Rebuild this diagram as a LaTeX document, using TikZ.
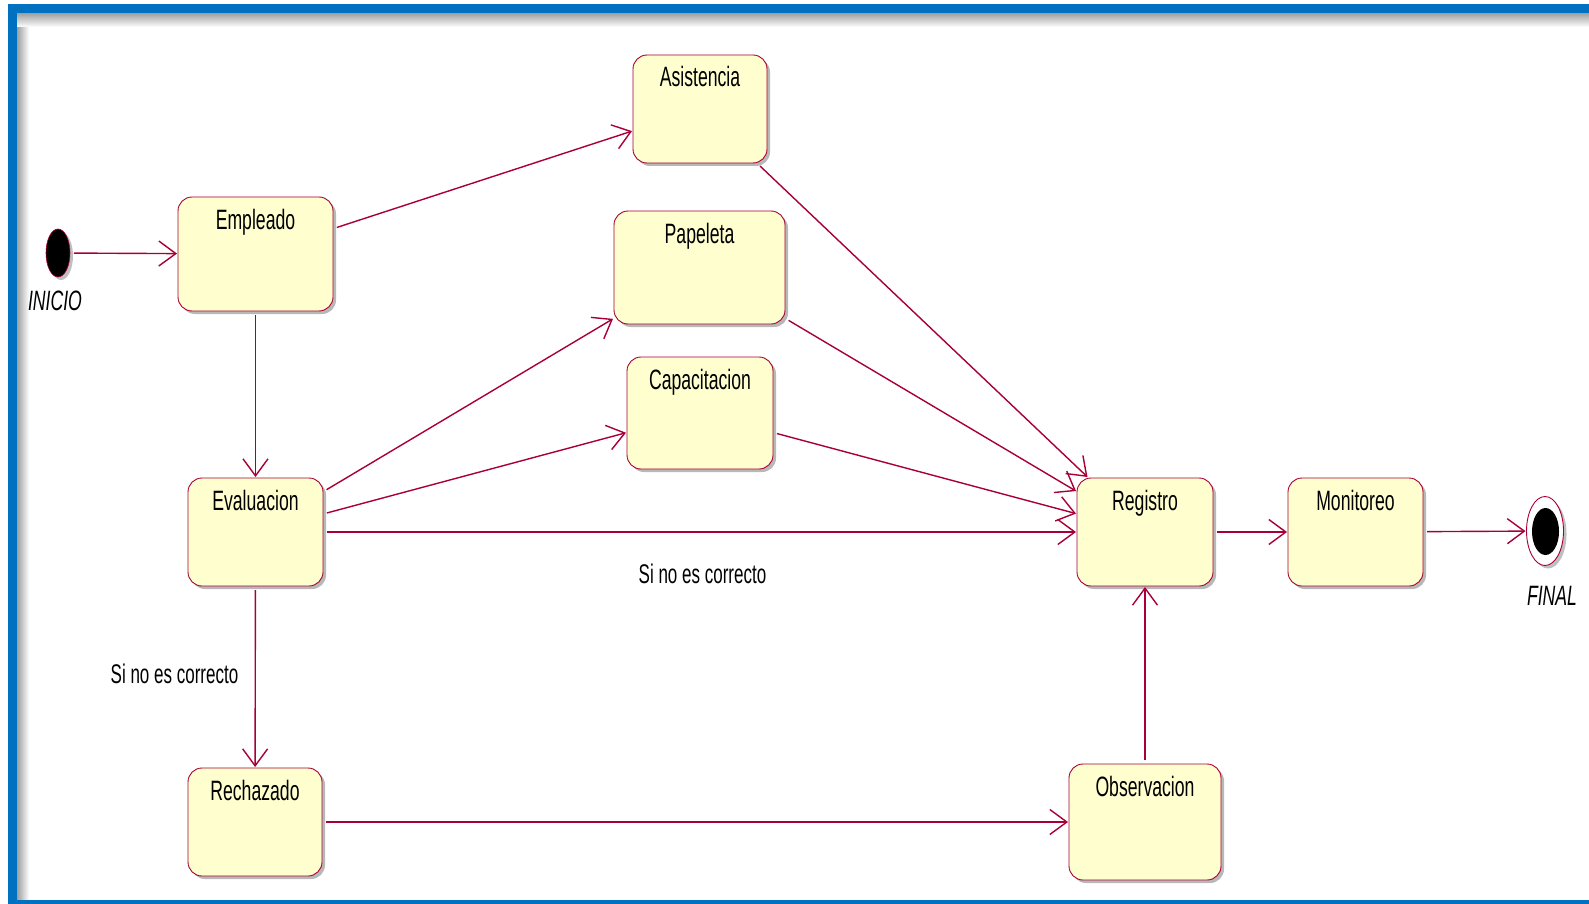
\documentclass[tikz,border=0pt]{standalone}
\usepackage{fontspec}
\setmainfont{Liberation Sans}[FakeStretch=0.63]
\usetikzlibrary{arrows.meta,shadows,shapes.geometric}
\definecolor{umlred}{RGB}{168,0,54}
\definecolor{statefill}{RGB}{254,254,206}
\definecolor{frameblue}{RGB}{0,112,192}

\begin{document}
\begin{tikzpicture}[x=1pt,y=-1pt,
  statebox/.style={draw=umlred, line width=0.9pt, fill=statefill,
    rounded corners=14pt, inner sep=0pt, outer sep=1pt,
    drop shadow={shadow xshift=3pt, shadow yshift=-3pt, opacity=0.28, fill=black}},
  statetxt/.style={anchor=base, yshift=-33pt, inner sep=0pt,
    font=\fontsize{28}{30}\selectfont},
  conn/.style={draw=umlred, line width=1.4pt, shorten <=3pt,
    -{Straight Barb[length=17pt,width=25pt,line width=1.4pt]}},
  guard/.style={anchor=base, inner sep=0pt, font=\fontsize{27}{29}\selectfont},
  pseudo/.style={ellipse, inner sep=0pt, outer sep=1pt},
  pseudotxt/.style={inner sep=0pt, font=\fontsize{28}{30}\selectfont\itshape}
]
\useasboundingbox (0,0) rectangle (1589,904);
\clip (0,0) rectangle (1589,904);
\fill[white] (0,0) rectangle (1589,904);

% frame with a soft inner shadow
\shade[left color=black!38, right color=white] (17,13) rectangle (29,904);
\shade[top color=black!38, bottom color=white] (17,13) rectangle (1589,27);
\draw[frameblue, line width=9pt] (12.5,9) rectangle (1620,904.5);

% states
\node[statebox, minimum width=155pt, minimum height=114pt,
  label={[statetxt]north:Empleado}] (emp) at (255.5,254) {};
\node[statebox, minimum width=134pt, minimum height=108pt,
  label={[statetxt]north:Asistencia}] (asi) at (700,109) {};
\node[statebox, minimum width=171pt, minimum height=113pt,
  label={[statetxt]north:Papeleta}] (pap) at (699.5,267.5) {};
\node[statebox, minimum width=146pt, minimum height=112pt,
  label={[statetxt]north:Capacitacion}] (cap) at (700,413) {};
\node[statebox, minimum width=135pt, minimum height=108pt,
  label={[statetxt]north:Evaluacion}] (eva) at (255.5,532) {};
\node[statebox, minimum width=134pt, minimum height=108pt,
  label={[statetxt]north:Rechazado}] (rec) at (255,822) {};
\node[statebox, minimum width=152pt, minimum height=116pt,
  label={[statetxt]north:Observacion}] (obs) at (1145,822) {};
\node[statebox, minimum width=136pt, minimum height=108pt,
  label={[statetxt]north:Registro}] (reg) at (1145,532) {};
\node[statebox, minimum width=135pt, minimum height=108pt,
  label={[statetxt]north:Monitoreo}] (mon) at (1355.5,532) {};

% initial and final pseudo states
\node[pseudo, fill=black, draw=umlred, line width=0.6pt,
  minimum width=24pt, minimum height=48pt,
  drop shadow={shadow xshift=3pt, shadow yshift=-3pt, opacity=0.25, fill=black}] (ini) at (58,253) {};
\node[pseudotxt] (initxt) at (55,301) {INICIO};
\node[pseudo, fill=white, draw=umlred, line width=0.9pt,
  minimum width=37pt, minimum height=69pt,
  drop shadow={shadow xshift=3pt, shadow yshift=-3pt, opacity=0.25, fill=black}] (fin) at (1545,531) {};
\node[ellipse, inner sep=0pt, fill=black, minimum width=27pt, minimum height=47pt] (fincore) at (1545.5,531.5) {};
\node[pseudotxt] (fintxt) at (1552,596) {FINAL};

% transitions
\draw[conn] (ini) -- (emp);
\draw[conn] (emp) -- (asi);
\draw[conn] (emp) -- (eva);
\draw[conn] (eva) -- (pap);
\draw[conn] (eva) -- (cap);
\draw[conn] (eva) -- (reg);
\draw[conn] (eva) -- (rec);
\draw[conn] (asi) -- (reg);
\draw[conn] (pap) -- (reg);
\draw[conn] (cap) -- (reg);
\draw[conn] (reg) -- (mon);
\draw[conn] (mon) -- (fin);
\draw[conn] (rec) -- (obs);
\draw[conn] (obs) -- (reg);

% guard labels
\node[guard] (g1) at (174.5,683) {Si no es correcto};
\node[guard] (g2) at (702.5,583) {Si no es correcto};
\end{tikzpicture}
\end{document}
